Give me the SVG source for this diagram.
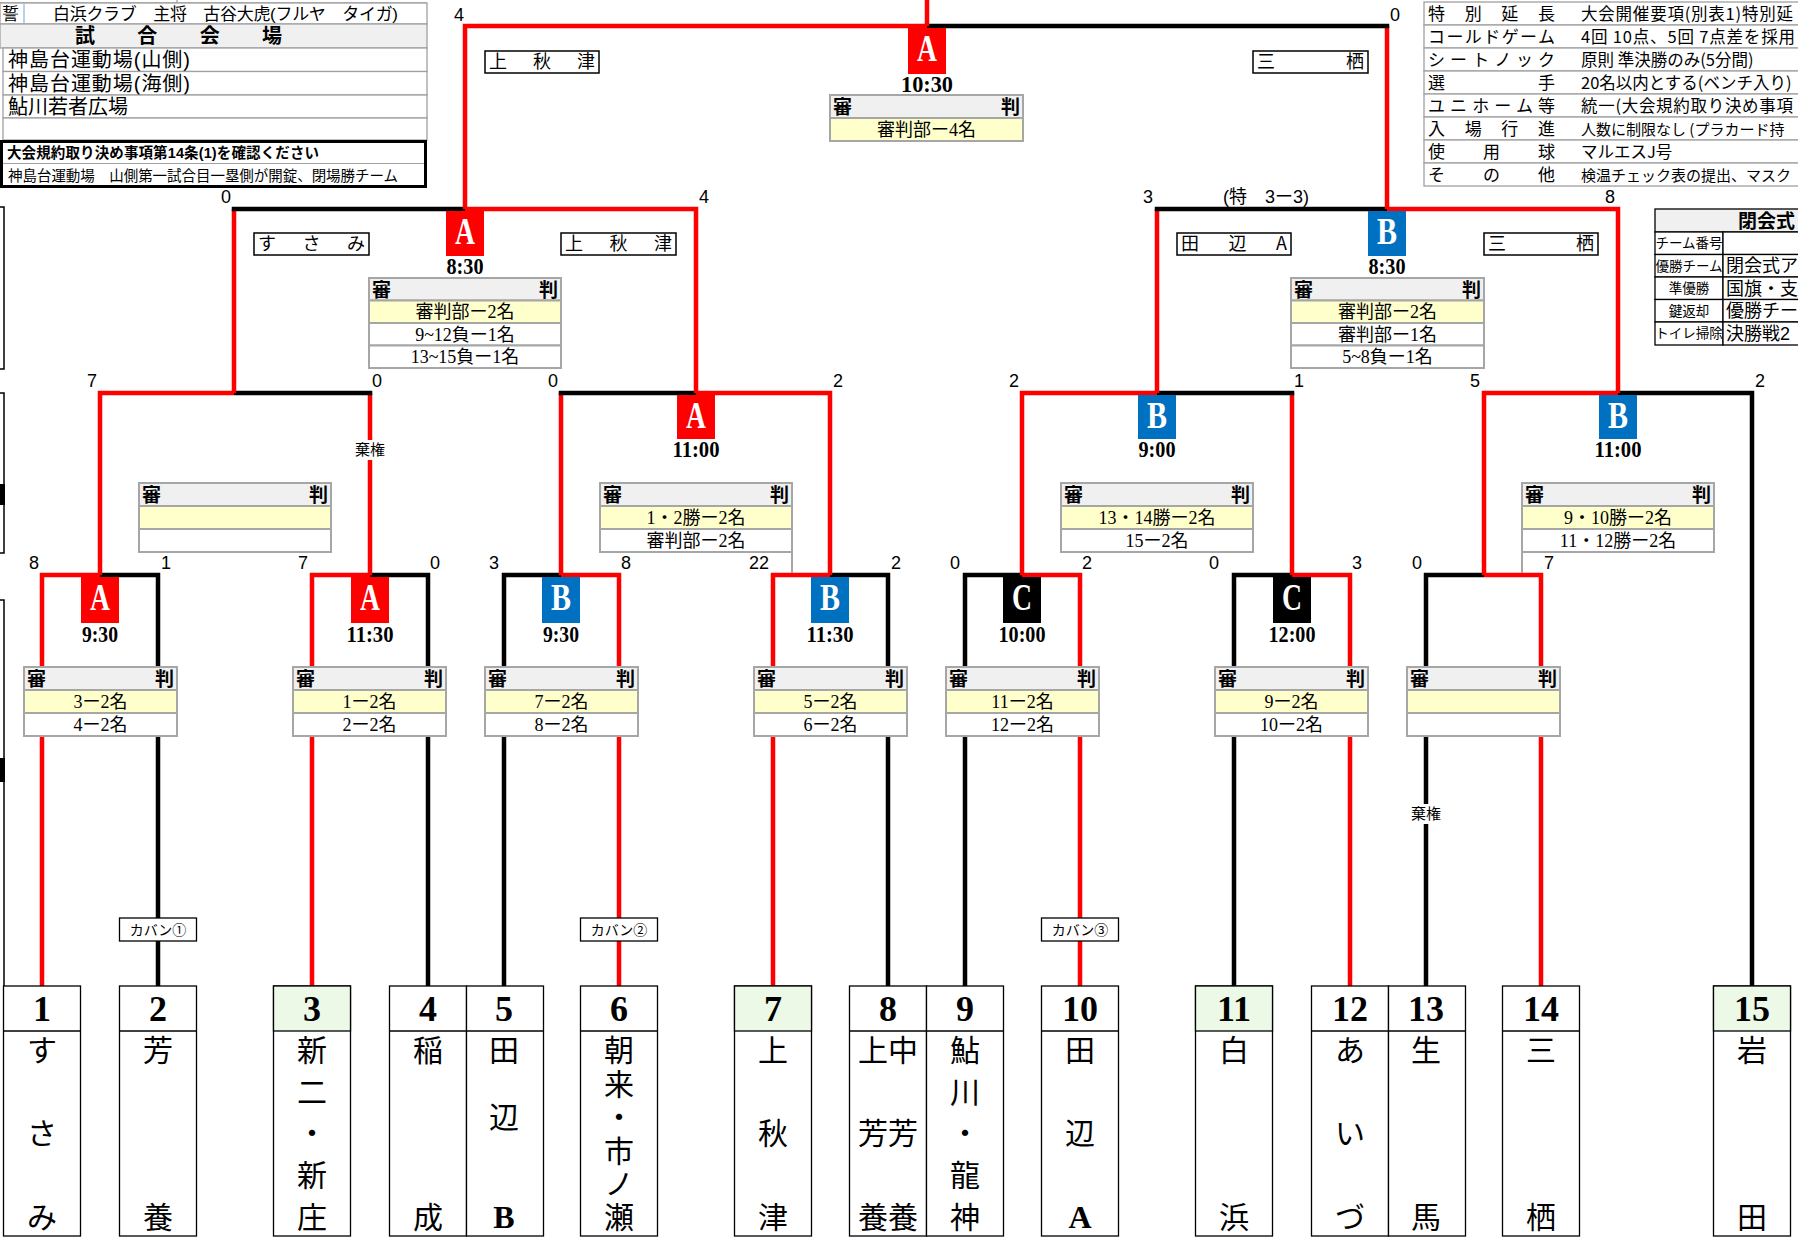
<svg xmlns="http://www.w3.org/2000/svg" width="1798" height="1240" viewBox="0 0 1798 1240">
<style>
.r{fill:none;stroke:#ff0000;stroke-width:4.5}
.k{fill:none;stroke:#000;stroke-width:4.5}
.sc{font-family:"Liberation Sans","Noto Sans CJK JP",sans-serif;font-size:18px;text-anchor:middle;fill:#000}
.tb{fill:#fff;stroke:#000;stroke-width:1.3}
.gr{fill:#ebf9e6;stroke:#000;stroke-width:1.3}
.tn{font-family:"Liberation Serif","Noto Sans CJK JP",serif;font-weight:bold;font-size:36px;text-anchor:middle}
.nm{font-family:"Noto Sans CJK JP",sans-serif;font-size:30px;text-anchor:middle}
.nv{font-family:"Noto Sans CJK JP",sans-serif;font-size:30px;writing-mode:vertical-rl;text-anchor:start}
.nl{font-family:"Liberation Serif",serif;font-weight:bold;font-size:32px}
.ltr{font-family:"Liberation Serif",serif;font-weight:bold;font-size:38px;fill:#fff;text-anchor:middle}
.tm{font-family:"Liberation Serif",serif;font-weight:bold;font-size:24px;text-anchor:middle}
.bA{fill:#ff0000}.bB{fill:#0070c0}.bC{fill:#000}
.rh{fill:#f0f0f0;stroke:#a6a6a6;stroke-width:2}
.ry{fill:#ffffcc;stroke:#a6a6a6;stroke-width:2}
.rw{fill:#fff;stroke:#a6a6a6;stroke-width:2}
.rt{font-family:"Liberation Serif","Noto Sans CJK JP",serif;font-size:18px;text-anchor:middle}
.rb{font-family:"Noto Sans CJK JP",sans-serif;font-weight:bold;font-size:19px}
.lb{fill:#fff;stroke:#000;stroke-width:1.5}
.lt{font-family:"Noto Sans CJK JP",sans-serif;font-size:18px}
.sm{font-family:"Noto Sans CJK JP",sans-serif;font-size:14px;text-anchor:middle}
.kk{font-family:"Noto Sans CJK JP",sans-serif;font-size:15px;text-anchor:middle}
.cl{font-family:"Liberation Sans","Noto Sans CJK JP",sans-serif;font-size:13.5px;text-anchor:middle}
.cv{font-family:"Liberation Sans","Noto Sans CJK JP",sans-serif;font-size:18px}
.tl{fill:#fff;stroke:#a0a0a0;stroke-width:1.3}
.tx{font-family:"Noto Sans CJK JP",sans-serif;font-size:17px}
.tv{font-family:"Noto Sans CJK JP",sans-serif;font-size:16.5px}
.tv15{font-family:"Noto Sans CJK JP",sans-serif;font-size:15px}
.ls17{font-family:"Liberation Sans","Noto Sans CJK JP",sans-serif;font-size:17px}
.ls19{font-family:"Liberation Sans","Noto Sans CJK JP",sans-serif;font-size:19px;font-weight:bold}
.ls20{font-family:"Liberation Sans","Noto Sans CJK JP",sans-serif;font-size:20px}
.tx14{font-family:"Liberation Sans","Noto Sans CJK JP",sans-serif;font-size:14.5px}
.gl{stroke:#a6a6a6;stroke-width:2}
</style>

<!-- left edge artifacts -->
<g id="edge">
<path d="M0,207 H4 V369 H0 M0,393 H4 V553 H0 M0,600 H4 V986" fill="none" stroke="#000" stroke-width="1.5"/>
<rect x="0" y="484" width="5" height="21" fill="#000"/>
<rect x="0" y="758" width="5" height="24" fill="#000"/>
</g>

<!-- top-left info table -->
<g id="info-left">
<path d="M0,3 H427 M177,0 V3" stroke="#a0a0a0" stroke-width="1.3" fill="none"/>
<rect class="tl" x="0" y="3" width="427" height="21"/>
<line x1="24" y1="3" x2="24" y2="24" stroke="#9dc3e6" stroke-width="1.5"/>
<text class="ls17" x="2" y="20">誓</text>
<text class="ls17" x="53" y="20" textLength="345" lengthAdjust="spacing">白浜クラブ　主将　古谷大虎(フルヤ　タイガ)</text>
<rect x="0" y="24" width="427" height="24" fill="#f0f0f0" stroke="#a0a0a0" stroke-width="1.3"/>
<text class="ls20" x="75" y="43" font-weight="bold" textLength="207" lengthAdjust="spacing">試合会場</text>
<rect class="tl" x="3" y="48" width="424" height="23.5"/>
<text class="ls20" x="8" y="67" textLength="182" lengthAdjust="spacing">神島台運動場(山側)</text>
<rect class="tl" x="3" y="71.5" width="424" height="23.5"/>
<text class="ls20" x="8" y="90.5" textLength="182" lengthAdjust="spacing">神島台運動場(海側)</text>
<rect class="tl" x="3" y="95" width="424" height="23"/>
<text class="ls20" x="8" y="113.5">鮎川若者広場</text>
<rect class="tl" x="3" y="118" width="424" height="22"/>
<rect x="1.5" y="141.5" width="424" height="45" fill="#fff" stroke="#000" stroke-width="3"/>
<line x1="3" y1="163.5" x2="424" y2="163.5" stroke="#a0a0a0" stroke-width="1.2"/>
<text class="tx14" x="7" y="158" font-weight="bold" textLength="312" lengthAdjust="spacing">大会規約取り決め事項第14条(1)を確認ください</text>
<text class="tx14" x="8" y="181" textLength="390" lengthAdjust="spacing">神島台運動場　山側第一試合目一塁側が開錠、閉場勝チーム</text>
</g>

<!-- top-right rules table -->
<g id="info-right">
<rect class="tl" x="1424" y="2" width="380" height="23"/>
<rect class="tl" x="1424" y="25" width="380" height="23"/>
<rect class="tl" x="1424" y="48" width="380" height="23"/>
<rect class="tl" x="1424" y="71" width="380" height="23"/>
<rect class="tl" x="1424" y="94" width="380" height="23"/>
<rect class="tl" x="1424" y="117" width="380" height="23"/>
<rect class="tl" x="1424" y="140" width="380" height="23"/>
<rect class="tl" x="1424" y="163" width="380" height="23"/>
<text class="tx" x="1428" y="19.5" textLength="127" lengthAdjust="spacing">特別延長</text>
<text class="tx" x="1428" y="42.5" textLength="127" lengthAdjust="spacing">コールドゲーム</text>
<text class="tx" x="1428" y="65.5" textLength="127" lengthAdjust="spacing">シートノック</text>
<text class="tx" x="1428" y="88.5" textLength="127" lengthAdjust="spacing">選手</text>
<text class="tx" x="1428" y="111.5" textLength="127" lengthAdjust="spacing">ユニホーム等</text>
<text class="tx" x="1428" y="134.5" textLength="127" lengthAdjust="spacing">入場行進</text>
<text class="tx" x="1428" y="157.5" textLength="127" lengthAdjust="spacing">使用球</text>
<text class="tx" x="1428" y="180.5" textLength="127" lengthAdjust="spacing">その他</text>
<text class="tv" x="1581" y="19.5" textLength="212" lengthAdjust="spacing">大会開催要項(別表1)特別延</text>
<text class="tv" x="1581" y="42.5" textLength="214" lengthAdjust="spacing">4回  10点、5回  7点差を採用</text>
<text class="tv" x="1581" y="65.5">原則  準決勝のみ(5分間)</text>
<text class="tv" x="1581" y="88.5">20名以内とする(ベンチ入り)</text>
<text class="tv" x="1581" y="111.5" textLength="212" lengthAdjust="spacing">統一(大会規約取り決め事項</text>
<text class="tv15" x="1581" y="134.5">人数に制限なし (プラカード持</text>
<text class="tv" x="1581" y="157.5">マルエスJ号</text>
<text class="tv15" x="1581" y="180.5">検温チェック表の提出、マスク</text>
</g>

<!-- closing ceremony table -->
<g id="closing">
<rect x="1655" y="209" width="150" height="23" fill="#f0f0f0" stroke="#000" stroke-width="1.3"/>
<text class="ls19" x="1738" y="228">閉会式</text>
<rect class="tb" x="1655" y="232" width="68" height="22.5"/><rect class="tb" x="1723" y="232" width="80" height="22.5"/>
<rect class="tb" x="1655" y="254.5" width="68" height="22.5"/><rect class="tb" x="1723" y="254.5" width="80" height="22.5"/>
<rect class="tb" x="1655" y="277" width="68" height="22.5"/><rect class="tb" x="1723" y="277" width="80" height="22.5"/>
<rect class="tb" x="1655" y="299.5" width="68" height="22.5"/><rect class="tb" x="1723" y="299.5" width="80" height="22.5"/>
<rect class="tb" x="1655" y="322" width="68" height="23"/><rect class="tb" x="1723" y="322" width="80" height="23"/>
<text class="cl" x="1689" y="248">チーム番号</text>
<text class="cl" x="1689" y="270.5">優勝チーム</text>
<text class="cl" x="1689" y="293">準優勝</text>
<text class="cl" x="1689" y="315.5">鍵返却</text>
<text class="cl" x="1689" y="338">トイレ掃除</text>
<text class="cv" x="1726" y="272">閉会式ア</text>
<text class="cv" x="1726" y="294.5">国旗・支</text>
<text class="cv" x="1726" y="317">優勝チー</text>
<text class="cv" x="1726" y="339.5">決勝戦2</text>
</g>

<!-- connectors -->
<g id="connectors">
<path class="r" d="M42,986 V575 H100"/><path class="k" d="M158,986 V575 H100"/>
<path class="r" d="M312,986 V575 H370"/><path class="k" d="M428,986 V575 H370"/>
<path class="k" d="M504,986 V575 H561"/><path class="r" d="M619,986 V575 H561"/>
<path class="r" d="M773,986 V575 H830"/><path class="k" d="M888,986 V575 H830"/>
<path class="k" d="M965,986 V575 H1022"/><path class="r" d="M1080,986 V575 H1022"/>
<path class="k" d="M1234,986 V575 H1292"/><path class="r" d="M1350,986 V575 H1292"/>
<path class="k" d="M1426,986 V575 H1484"/><path class="r" d="M1541,986 V575 H1484"/>
<path class="r" d="M100,575 V393 H234"/><path class="r" d="M370,575 V393"/><path class="k" d="M372.25,393 H234"/>
<path class="r" d="M561,575 V393"/><path class="k" d="M558.75,393 H696"/><path class="r" d="M830,575 V393 H696"/>
<path class="r" d="M1022,575 V393 H1157"/><path class="r" d="M1292,575 V393"/><path class="k" d="M1294.25,393 H1157"/>
<path class="r" d="M1484,575 V393 H1618"/><path class="k" d="M1752,986 V393 H1618"/>
<path class="r" d="M234,393 V209"/><path class="k" d="M231.75,209 H465"/><path class="r" d="M696,393 V209 H465"/>
<path class="r" d="M1157,393 V209"/><path class="k" d="M1154.75,209 H1387"/><path class="r" d="M1618,393 V209 H1387"/>
<path class="r" d="M465,209 V26 H927"/><path class="r" d="M1387,209 V26"/><path class="k" d="M1389.25,26 H927"/>
<path class="r" d="M927,26 V0"/>
<rect x="353" y="440" width="34" height="20" fill="#fff"/>
<text class="kk" x="370" y="455">棄権</text>
<rect x="1409" y="804" width="34" height="20" fill="#fff"/>
<text class="kk" x="1426" y="819">棄権</text>
</g>

<!-- scores -->
<g id="scores" class="sc">
<text x="34" y="569">8</text><text x="166" y="569">1</text>
<text x="303" y="569">7</text><text x="435" y="569">0</text>
<text x="494" y="569">3</text><text x="626" y="569">8</text>
<text x="759" y="569">22</text><text x="896" y="569">2</text>
<text x="955" y="569">0</text><text x="1087" y="569">2</text>
<text x="1214" y="569">0</text><text x="1357" y="569">3</text>
<text x="1417" y="569">0</text><text x="1549" y="569">7</text>
<text x="92" y="387">7</text><text x="377" y="387">0</text>
<text x="553" y="387">0</text><text x="838" y="387">2</text>
<text x="1014" y="387">2</text><text x="1299" y="387">1</text>
<text x="1475" y="387">5</text><text x="1760" y="387">2</text>
<text x="226" y="203">0</text><text x="704" y="203">4</text>
<text x="1148" y="203">3</text><text x="1266" y="203">(特　3ー3)</text><text x="1610" y="203">8</text>
<text x="459" y="21">4</text><text x="1395" y="21">0</text>
</g>

<!-- round 1 games -->
<g id="game1">
<rect class="bA" x="81" y="577" width="38" height="46"/>
<text class="ltr" x="100" y="610" textLength="20" lengthAdjust="spacingAndGlyphs">A</text>
<text class="tm" x="100" y="642" textLength="36" lengthAdjust="spacingAndGlyphs">9:30</text>
<rect class="rh" x="24" y="667" width="153" height="23"/><rect class="ry" x="24" y="690" width="153" height="23"/><rect class="rw" x="24" y="713" width="153" height="23"/>
<text class="rb" x="27" y="686">審</text><text class="rb" x="174" y="686" text-anchor="end">判</text>
<text class="rt" x="100.5" y="708">3ー2名</text><text class="rt" x="100.5" y="731">4ー2名</text>
</g>
<g id="game2">
<rect class="bA" x="351" y="577" width="38" height="46"/>
<text class="ltr" x="370" y="610" textLength="20" lengthAdjust="spacingAndGlyphs">A</text>
<text class="tm" x="370" y="642" textLength="47" lengthAdjust="spacingAndGlyphs">11:30</text>
<rect class="rh" x="293" y="667" width="153" height="23"/><rect class="ry" x="293" y="690" width="153" height="23"/><rect class="rw" x="293" y="713" width="153" height="23"/>
<text class="rb" x="296" y="686">審</text><text class="rb" x="443" y="686" text-anchor="end">判</text>
<text class="rt" x="369.5" y="708">1ー2名</text><text class="rt" x="369.5" y="731">2ー2名</text>
</g>
<g id="game3">
<rect class="bB" x="542" y="577" width="38" height="46"/>
<text class="ltr" x="561" y="610" textLength="20" lengthAdjust="spacingAndGlyphs">B</text>
<text class="tm" x="561" y="642" textLength="36" lengthAdjust="spacingAndGlyphs">9:30</text>
<rect class="rh" x="485" y="667" width="153" height="23"/><rect class="ry" x="485" y="690" width="153" height="23"/><rect class="rw" x="485" y="713" width="153" height="23"/>
<text class="rb" x="488" y="686">審</text><text class="rb" x="635" y="686" text-anchor="end">判</text>
<text class="rt" x="561.5" y="708">7ー2名</text><text class="rt" x="561.5" y="731">8ー2名</text>
</g>
<g id="game4">
<rect class="bB" x="811" y="577" width="38" height="46"/>
<text class="ltr" x="830" y="610" textLength="20" lengthAdjust="spacingAndGlyphs">B</text>
<text class="tm" x="830" y="642" textLength="47" lengthAdjust="spacingAndGlyphs">11:30</text>
<rect class="rh" x="754" y="667" width="153" height="23"/><rect class="ry" x="754" y="690" width="153" height="23"/><rect class="rw" x="754" y="713" width="153" height="23"/>
<text class="rb" x="757" y="686">審</text><text class="rb" x="904" y="686" text-anchor="end">判</text>
<text class="rt" x="830.5" y="708">5ー2名</text><text class="rt" x="830.5" y="731">6ー2名</text>
</g>
<g id="game5">
<rect class="bC" x="1003" y="577" width="38" height="46"/>
<text class="ltr" x="1022" y="610" textLength="20" lengthAdjust="spacingAndGlyphs">C</text>
<text class="tm" x="1022" y="642" textLength="47" lengthAdjust="spacingAndGlyphs">10:00</text>
<rect class="rh" x="946" y="667" width="153" height="23"/><rect class="ry" x="946" y="690" width="153" height="23"/><rect class="rw" x="946" y="713" width="153" height="23"/>
<text class="rb" x="949" y="686">審</text><text class="rb" x="1096" y="686" text-anchor="end">判</text>
<text class="rt" x="1022.5" y="708">11ー2名</text><text class="rt" x="1022.5" y="731">12ー2名</text>
</g>
<g id="game6">
<rect class="bC" x="1273" y="577" width="38" height="46"/>
<text class="ltr" x="1292" y="610" textLength="20" lengthAdjust="spacingAndGlyphs">C</text>
<text class="tm" x="1292" y="642" textLength="47" lengthAdjust="spacingAndGlyphs">12:00</text>
<rect class="rh" x="1215" y="667" width="153" height="23"/><rect class="ry" x="1215" y="690" width="153" height="23"/><rect class="rw" x="1215" y="713" width="153" height="23"/>
<text class="rb" x="1218" y="686">審</text><text class="rb" x="1365" y="686" text-anchor="end">判</text>
<text class="rt" x="1291.5" y="708">9ー2名</text><text class="rt" x="1291.5" y="731">10ー2名</text>
</g>
<g id="game7">
<rect class="rh" x="1407" y="667" width="153" height="23"/><rect class="ry" x="1407" y="690" width="153" height="23"/><rect class="rw" x="1407" y="713" width="153" height="23"/>
<text class="rb" x="1410" y="686">審</text><text class="rb" x="1557" y="686" text-anchor="end">判</text>
</g>

<!-- round 2 games -->
<g id="game8">
<rect class="rh" x="139" y="483" width="192" height="23"/><rect class="ry" x="139" y="506" width="192" height="23"/><rect class="rw" x="139" y="529" width="192" height="23"/>
<text class="rb" x="142" y="502">審</text><text class="rb" x="328" y="502" text-anchor="end">判</text>
</g>
<g id="game9">
<rect class="bA" x="677" y="395" width="38" height="44"/>
<text class="ltr" x="696" y="428" textLength="20" lengthAdjust="spacingAndGlyphs">A</text>
<text class="tm" x="696" y="457" textLength="47" lengthAdjust="spacingAndGlyphs">11:00</text>
<line class="gl" x1="792" y1="552" x2="792" y2="573"/>
<rect class="rh" x="600" y="483" width="192" height="23"/><rect class="ry" x="600" y="506" width="192" height="23"/><rect class="rw" x="600" y="529" width="192" height="23"/>
<text class="rb" x="603" y="502">審</text><text class="rb" x="789" y="502" text-anchor="end">判</text>
<text class="rt" x="696" y="524">1・2勝ー2名</text><text class="rt" x="696" y="547">審判部ー2名</text>
</g>
<g id="game10">
<rect class="bB" x="1138" y="395" width="38" height="44"/>
<text class="ltr" x="1157" y="428" textLength="20" lengthAdjust="spacingAndGlyphs">B</text>
<text class="tm" x="1157" y="457" textLength="37" lengthAdjust="spacingAndGlyphs">9:00</text>
<rect class="rh" x="1061" y="483" width="192" height="23"/><rect class="ry" x="1061" y="506" width="192" height="23"/><rect class="rw" x="1061" y="529" width="192" height="23"/>
<text class="rb" x="1064" y="502">審</text><text class="rb" x="1250" y="502" text-anchor="end">判</text>
<text class="rt" x="1157" y="524">13・14勝ー2名</text><text class="rt" x="1157" y="547">15ー2名</text>
</g>
<g id="game11">
<rect class="bB" x="1599" y="395" width="38" height="44"/>
<text class="ltr" x="1618" y="428" textLength="20" lengthAdjust="spacingAndGlyphs">B</text>
<text class="tm" x="1618" y="457" textLength="47" lengthAdjust="spacingAndGlyphs">11:00</text>
<line class="gl" x1="1522" y1="552" x2="1522" y2="573"/>
<rect class="rh" x="1522" y="483" width="192" height="23"/><rect class="ry" x="1522" y="506" width="192" height="23"/><rect class="rw" x="1522" y="529" width="192" height="23"/>
<text class="rb" x="1525" y="502">審</text><text class="rb" x="1711" y="502" text-anchor="end">判</text>
<text class="rt" x="1618" y="524">9・10勝ー2名</text><text class="rt" x="1618" y="547">11・12勝ー2名</text>
</g>

<!-- semifinals -->
<g id="game12">
<rect class="lb" x="254" y="233" width="115" height="22"/>
<text class="lt" x="258" y="250" textLength="107" lengthAdjust="spacing">すさみ</text>
<rect class="lb" x="561" y="233" width="115" height="22"/>
<text class="lt" x="565" y="250" textLength="107" lengthAdjust="spacing">上秋津</text>
<rect class="bA" x="446" y="211" width="38" height="45"/>
<text class="ltr" x="465" y="244" textLength="20" lengthAdjust="spacingAndGlyphs">A</text>
<text class="tm" x="465" y="274" textLength="37" lengthAdjust="spacingAndGlyphs">8:30</text>
<rect class="rh" x="369" y="278" width="192" height="22.5"/><rect class="ry" x="369" y="300.5" width="192" height="22.5"/><rect class="rw" x="369" y="323" width="192" height="22.5"/><rect class="rw" x="369" y="345.5" width="192" height="22.5"/>
<text class="rb" x="372" y="297">審</text><text class="rb" x="558" y="297" text-anchor="end">判</text>
<text class="rt" x="465" y="318">審判部ー2名</text><text class="rt" x="465" y="340.5">9~12負ー1名</text><text class="rt" x="465" y="363">13~15負ー1名</text>
</g>
<g id="game13">
<rect class="lb" x="1177" y="233" width="114" height="22"/>
<text class="lt" x="1181" y="250" textLength="106" lengthAdjust="spacing">田辺A</text>
<rect class="lb" x="1484" y="233" width="114" height="22"/>
<text class="lt" x="1488" y="250" textLength="106" lengthAdjust="spacing">三栖</text>
<rect class="bB" x="1368" y="211" width="38" height="45"/>
<text class="ltr" x="1387" y="244" textLength="20" lengthAdjust="spacingAndGlyphs">B</text>
<text class="tm" x="1387" y="274" textLength="37" lengthAdjust="spacingAndGlyphs">8:30</text>
<rect class="rh" x="1291" y="278" width="193" height="22.5"/><rect class="ry" x="1291" y="300.5" width="193" height="22.5"/><rect class="rw" x="1291" y="323" width="193" height="22.5"/><rect class="rw" x="1291" y="345.5" width="193" height="22.5"/>
<text class="rb" x="1294" y="297">審</text><text class="rb" x="1481" y="297" text-anchor="end">判</text>
<text class="rt" x="1387.5" y="318">審判部ー2名</text><text class="rt" x="1387.5" y="340.5">審判部ー1名</text><text class="rt" x="1387.5" y="363">5~8負ー1名</text>
</g>

<!-- final -->
<g id="game14">
<rect class="lb" x="485" y="51" width="114" height="22"/>
<text class="lt" x="489" y="68" textLength="106" lengthAdjust="spacing">上秋津</text>
<rect class="lb" x="1253" y="51" width="115" height="22"/>
<text class="lt" x="1257" y="68" textLength="107" lengthAdjust="spacing">三栖</text>
<rect class="bA" x="908" y="28" width="38" height="46"/>
<text class="ltr" x="927" y="61" textLength="20" lengthAdjust="spacingAndGlyphs">A</text>
<text class="tm" x="927" y="92" textLength="52" lengthAdjust="spacingAndGlyphs">10:30</text>
<rect class="rh" x="830" y="95" width="193" height="23"/><rect class="ry" x="830" y="118" width="193" height="23"/>
<text class="rb" x="833" y="114">審</text><text class="rb" x="1020" y="114" text-anchor="end">判</text>
<text class="rt" x="926.5" y="136">審判部ー4名</text>
</g>

<!-- bag labels -->
<g id="bags">
<rect class="tb" x="119.5" y="918" width="77" height="23"/><text class="sm" x="158" y="935">カバン①</text>
<rect class="tb" x="580.5" y="918" width="77" height="23"/><text class="sm" x="619" y="935">カバン②</text>
<rect class="tb" x="1041.5" y="918" width="77" height="23"/><text class="sm" x="1080" y="935">カバン③</text>
</g>

<!-- teams -->
<g id="team1"><rect class="tb" x="3.5" y="986" width="77" height="250"/><line x1="3.5" y1="1031" x2="80.5" y2="1031" stroke="#000" stroke-width="1.3"/>
<text class="tn" x="42" y="1021">1</text><text class="nm"><tspan x="42" y="1061">す</tspan><tspan x="42" y="1144">さ</tspan><tspan x="42" y="1228">み</tspan></text></g>
<g id="team2"><rect class="tb" x="119.5" y="986" width="77" height="250"/><line x1="119.5" y1="1031" x2="196.5" y2="1031" stroke="#000" stroke-width="1.3"/>
<text class="tn" x="158" y="1021">2</text><text class="nm"><tspan x="158" y="1061">芳</tspan><tspan x="158" y="1228">養</tspan></text></g>
<g id="team3"><rect class="tb" x="273.5" y="986" width="77" height="250"/><rect class="gr" x="273.5" y="986" width="77" height="45"/>
<text class="tn" x="312" y="1021">3</text><text class="nm"><tspan x="312" y="1061">新</tspan><tspan x="312" y="1103">二</tspan><tspan x="312" y="1144">・</tspan><tspan x="312" y="1186">新</tspan><tspan x="312" y="1228">庄</tspan></text></g>
<g id="team4"><rect class="tb" x="389.5" y="986" width="77" height="250"/><line x1="389.5" y1="1031" x2="466.5" y2="1031" stroke="#000" stroke-width="1.3"/>
<text class="tn" x="428" y="1021">4</text><text class="nm"><tspan x="428" y="1061">稲</tspan><tspan x="428" y="1228">成</tspan></text></g>
<g id="team5"><rect class="tb" x="466.5" y="986" width="77" height="250"/><line x1="466.5" y1="1031" x2="543.5" y2="1031" stroke="#000" stroke-width="1.3"/>
<text class="tn" x="504" y="1021">5</text><text class="nm"><tspan x="504" y="1061">田</tspan><tspan x="504" y="1128">辺</tspan><tspan class="nl" x="504" y="1228">B</tspan></text></g>
<g id="team6"><rect class="tb" x="580.5" y="986" width="77" height="250"/><line x1="580.5" y1="1031" x2="657.5" y2="1031" stroke="#000" stroke-width="1.3"/>
<text class="tn" x="619" y="1021">6</text><text class="nv" x="619" y="1035" letter-spacing="3.4">朝来・市ノ瀬</text></g>
<g id="team7"><rect class="tb" x="734.5" y="986" width="77" height="250"/><rect class="gr" x="734.5" y="986" width="77" height="45"/>
<text class="tn" x="773" y="1021">7</text><text class="nm"><tspan x="773" y="1061">上</tspan><tspan x="773" y="1144">秋</tspan><tspan x="773" y="1228">津</tspan></text></g>
<g id="team8"><rect class="tb" x="849.5" y="986" width="77" height="250"/><line x1="849.5" y1="1031" x2="926.5" y2="1031" stroke="#000" stroke-width="1.3"/>
<text class="tn" x="888" y="1021">8</text><text class="nm"><tspan x="888" y="1061">上中</tspan><tspan x="888" y="1144">芳芳</tspan><tspan x="888" y="1228">養養</tspan></text></g>
<g id="team9"><rect class="tb" x="926.5" y="986" width="77" height="250"/><line x1="926.5" y1="1031" x2="1003.5" y2="1031" stroke="#000" stroke-width="1.3"/>
<text class="tn" x="965" y="1021">9</text><text class="nm"><tspan x="965" y="1061">鮎</tspan><tspan x="965" y="1103">川</tspan><tspan x="965" y="1144">・</tspan><tspan x="965" y="1186">龍</tspan><tspan x="965" y="1228">神</tspan></text></g>
<g id="team10"><rect class="tb" x="1041.5" y="986" width="77" height="250"/><line x1="1041.5" y1="1031" x2="1118.5" y2="1031" stroke="#000" stroke-width="1.3"/>
<text class="tn" x="1080" y="1021">10</text><text class="nm"><tspan x="1080" y="1061">田</tspan><tspan x="1080" y="1144">辺</tspan><tspan class="nl" x="1080" y="1228">A</tspan></text></g>
<g id="team11"><rect class="tb" x="1195.5" y="986" width="77" height="250"/><rect class="gr" x="1195.5" y="986" width="77" height="45"/>
<text class="tn" x="1234" y="1021">11</text><text class="nm"><tspan x="1234" y="1061">白</tspan><tspan x="1234" y="1228">浜</tspan></text></g>
<g id="team12"><rect class="tb" x="1311.5" y="986" width="77" height="250"/><line x1="1311.5" y1="1031" x2="1388.5" y2="1031" stroke="#000" stroke-width="1.3"/>
<text class="tn" x="1350" y="1021">12</text><text class="nm"><tspan x="1350" y="1061">あ</tspan><tspan x="1350" y="1144">い</tspan><tspan x="1350" y="1228">づ</tspan></text></g>
<g id="team13"><rect class="tb" x="1388.5" y="986" width="77" height="250"/><line x1="1388.5" y1="1031" x2="1465.5" y2="1031" stroke="#000" stroke-width="1.3"/>
<text class="tn" x="1426" y="1021">13</text><text class="nm"><tspan x="1426" y="1061">生</tspan><tspan x="1426" y="1228">馬</tspan></text></g>
<g id="team14"><rect class="tb" x="1502.5" y="986" width="77" height="250"/><line x1="1502.5" y1="1031" x2="1579.5" y2="1031" stroke="#000" stroke-width="1.3"/>
<text class="tn" x="1541" y="1021">14</text><text class="nm"><tspan x="1541" y="1061">三</tspan><tspan x="1541" y="1228">栖</tspan></text></g>
<g id="team15"><rect class="tb" x="1713.5" y="986" width="77" height="250"/><rect class="gr" x="1713.5" y="986" width="77" height="45"/>
<text class="tn" x="1752" y="1021">15</text><text class="nm"><tspan x="1752" y="1061">岩</tspan><tspan x="1752" y="1228">田</tspan></text></g>
</svg>
